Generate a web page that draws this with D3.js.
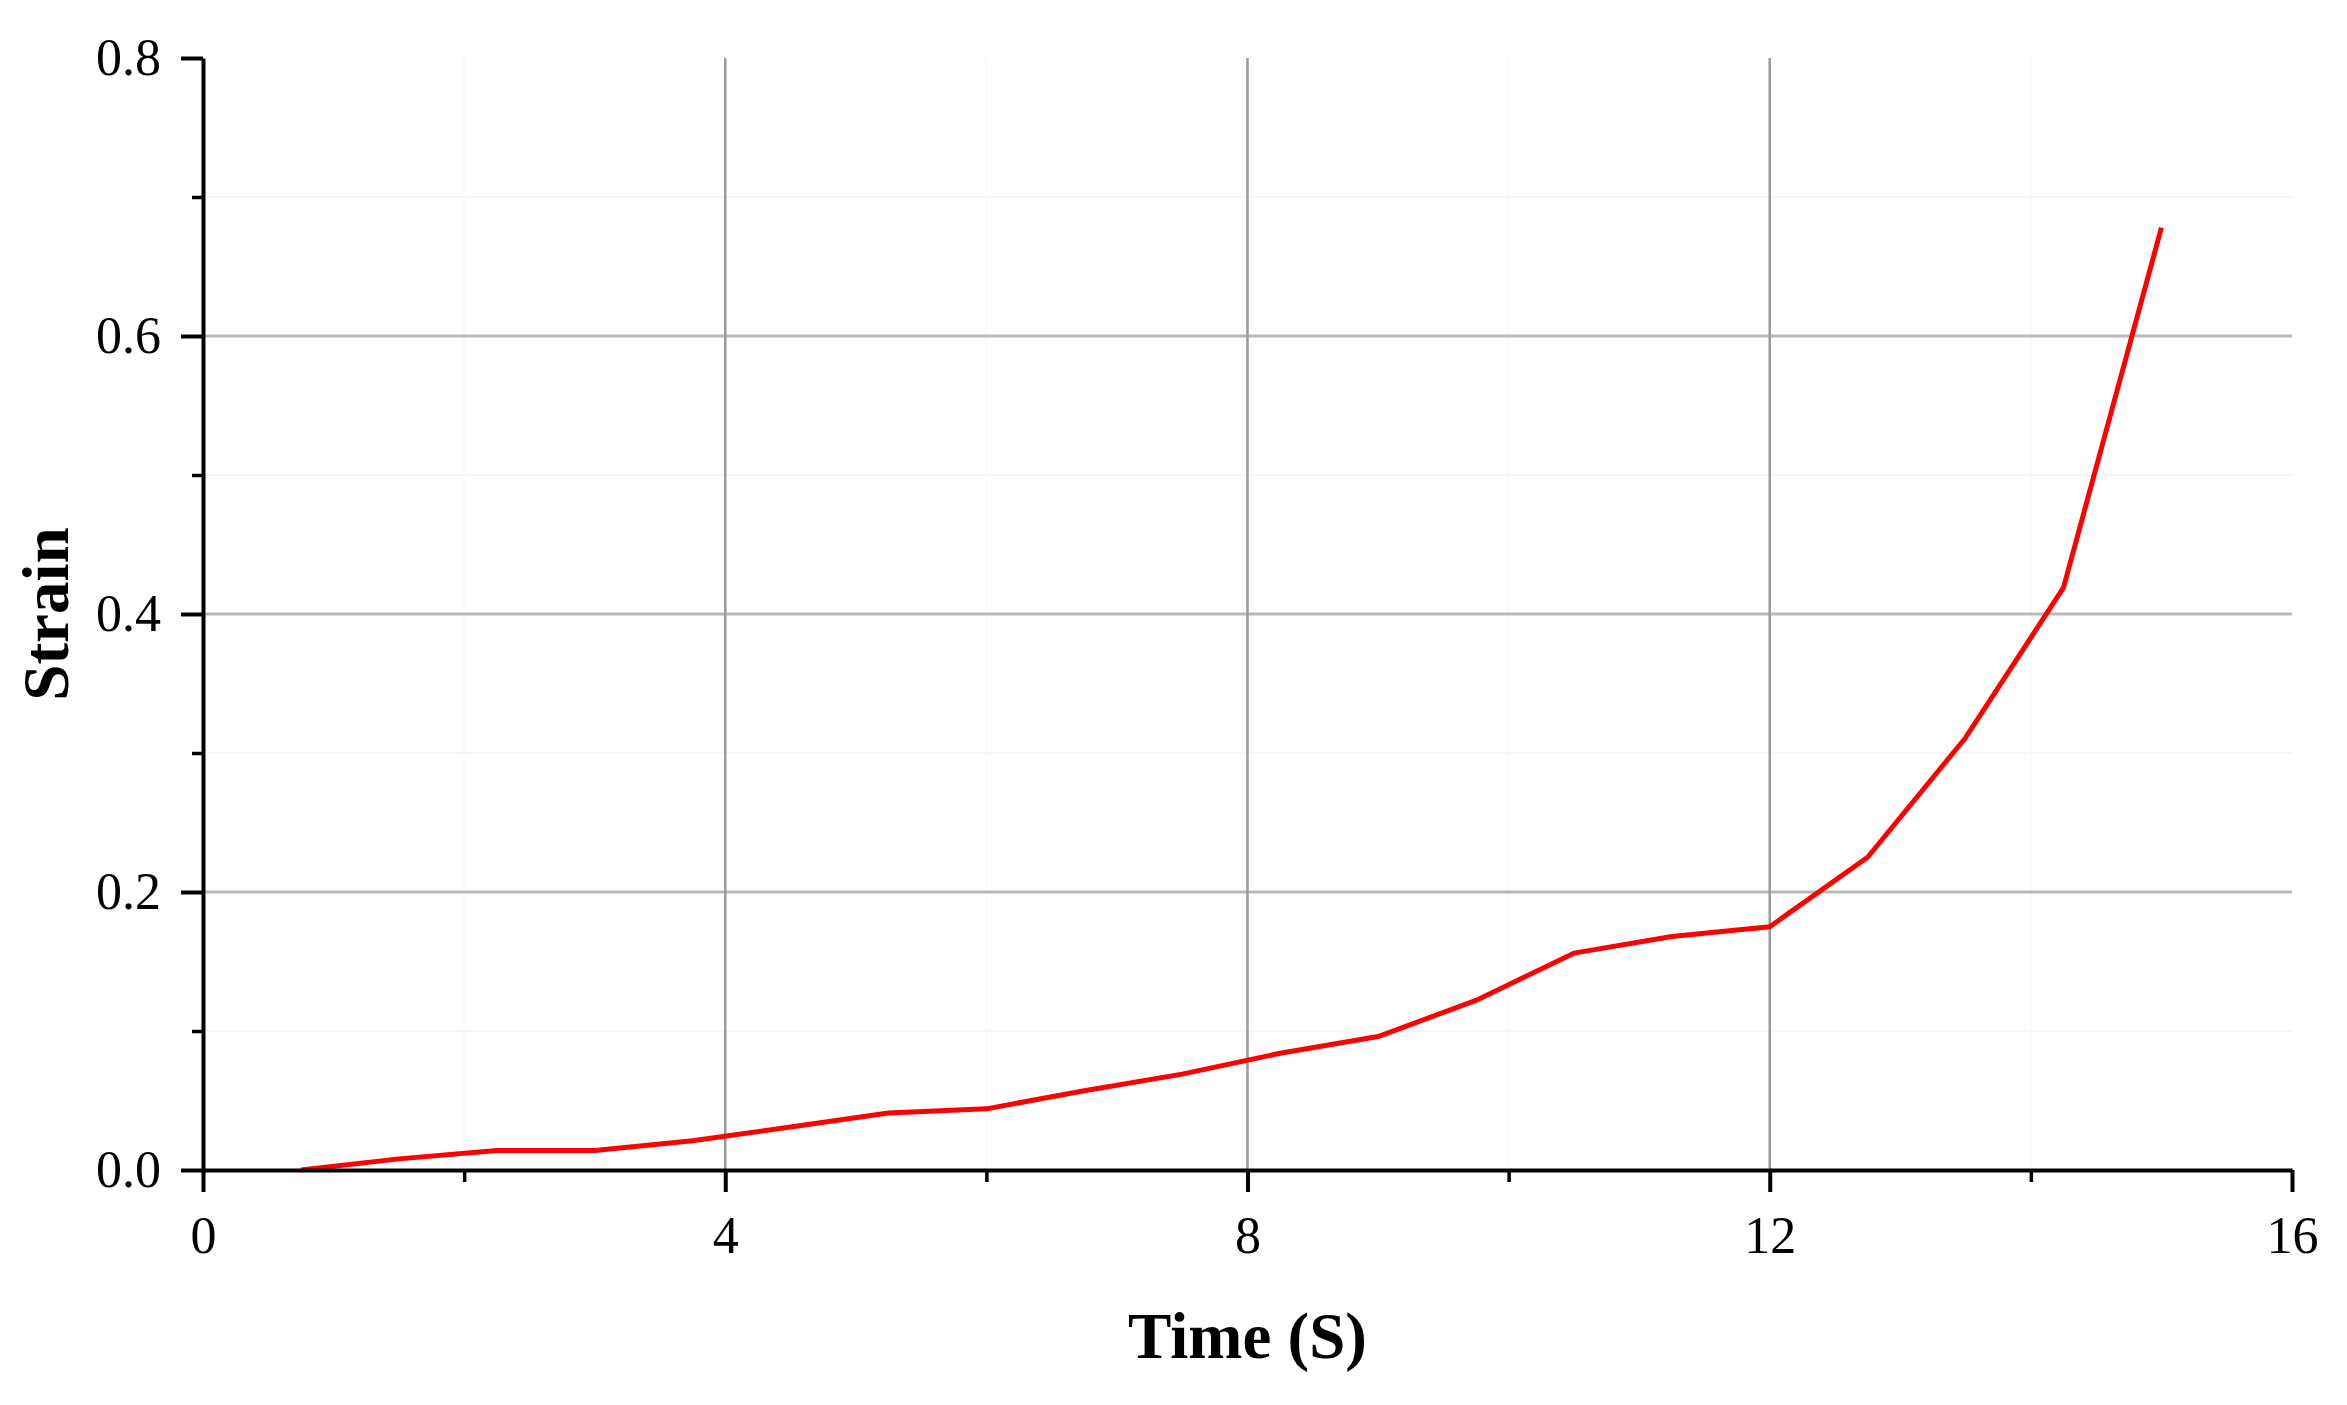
<!DOCTYPE html>
<html>
<head>
<meta charset="utf-8">
<script src="https://cdn.jsdelivr.net/npm/d3@7"></script>
<style>
  body { margin: 0; background: #fff; }
  svg { display: block; }
</style>
</head>
<body>
<svg id="chart" width="2347" height="1405"></svg>
<script>
// data
const timeValues = [0.75, 1.5, 2.25, 3, 3.75, 4.5, 5.25, 6, 6.75, 7.5, 8.25, 9, 9.75, 10.5, 11.25, 12, 12.75, 13.5, 14.25, 15];
const strainValues = [0, 0.008, 0.014, 0.014, 0.021, 0.031, 0.041, 0.044, 0.057, 0.069, 0.084, 0.096, 0.122, 0.156, 0.168, 0.175, 0.225, 0.311, 0.419, 0.678];
const xTicks = [0, 4, 8, 12, 16];
const xMinorTicks = [2, 6, 10, 14];
const yTicks = [0, 0.2, 0.4, 0.6, 0.8];
const yMinorTicks = [0.1, 0.3, 0.5, 0.7];

const margin = {top: 58, right: 55, bottom: 235, left: 203};
const width = 2347 - margin.left - margin.right;
const height = 1405 - margin.top - margin.bottom;
const font = '"Liberation Serif", "Times New Roman", serif';

const svgEl = d3.select("#chart");
const g = svgEl.append("g").attr("transform", `translate(${margin.left},${margin.top})`);

const x = d3.scaleLinear().domain([0, 16]).range([0, width]);
const y = d3.scaleLinear().domain([0, 0.8]).range([height, 0]);

// faint minor grid
g.append("g").selectAll("line").data(yMinorTicks).join("line")
  .attr("x1", 0).attr("x2", width)
  .attr("y1", d => y(d)).attr("y2", d => y(d))
  .attr("stroke", "#f6f6f6").attr("stroke-width", 2);
g.append("g").selectAll("line").data(xMinorTicks).join("line")
  .attr("x1", d => x(d)).attr("x2", d => x(d))
  .attr("y1", 0).attr("y2", height)
  .attr("stroke", "#fafafa").attr("stroke-width", 2);

// major grid
g.append("g").selectAll("line").data(yTicks.filter(d => d > 0 && d < 0.8)).join("line")
  .attr("x1", 0).attr("x2", width)
  .attr("y1", d => y(d)).attr("y2", d => y(d))
  .attr("stroke", "#bdb8b8").attr("stroke-width", 3);
g.append("g").selectAll("line").data(xTicks.filter(d => d > 0 && d < 16)).join("line")
  .attr("x1", d => x(d)).attr("x2", d => x(d))
  .attr("y1", 0).attr("y2", height)
  .attr("stroke", "#9a9a9a").attr("stroke-width", 2.5);

// the curve
const line = d3.line()
  .x((d, i) => x(timeValues[i]))
  .y(d => y(d));
g.append("path")
  .datum(strainValues)
  .attr("fill", "none")
  .attr("stroke", "#ff0000")
  .attr("stroke-width", 5)
  .attr("stroke-linejoin", "round")
  .attr("d", line);

// axes
const xAxis = d3.axisBottom(x).tickValues(xTicks).tickSize(22).tickSizeOuter(0).tickPadding(24).tickFormat(d3.format("d"));
const yAxis = d3.axisLeft(y).tickValues(yTicks).tickSize(22).tickSizeOuter(0).tickPadding(20).tickFormat(d3.format(".1f"));

g.append("g").attr("transform", `translate(0,${height})`)
  .call(d3.axisBottom(x).tickValues(xMinorTicks).tickSize(12).tickSizeOuter(0).tickFormat(""))
  .call(a => a.select(".domain").remove())
  .call(a => a.selectAll("line").attr("stroke", "#000").attr("stroke-width", 3.5));
g.append("g")
  .call(d3.axisLeft(y).tickValues(yMinorTicks).tickSize(11).tickSizeOuter(0).tickFormat(""))
  .call(a => a.select(".domain").remove())
  .call(a => a.selectAll("line").attr("stroke", "#000").attr("stroke-width", 3.5));

const xg = g.append("g").attr("transform", `translate(0,${height})`).call(xAxis);
const yg = g.append("g").call(yAxis);

[xg, yg].forEach(a => {
  a.select(".domain").attr("stroke", "#000").attr("stroke-width", 4);
  a.selectAll(".tick line").attr("stroke", "#000").attr("stroke-width", 4);
  a.selectAll(".tick text")
    .attr("fill", "#000")
    .style("font-family", font)
    .style("font-size", "52px");
});

// axis titles
g.append("text")
  .attr("x", width / 2)
  .attr("y", 1358 - margin.top)
  .attr("text-anchor", "middle")
  .style("font-family", font)
  .style("font-size", "65px")
  .style("font-weight", "bold")
  .text("Time (S)");

g.append("text")
  .attr("transform", "rotate(-90)")
  .attr("x", -(height / 2))
  .attr("y", 68 - margin.left)
  .attr("text-anchor", "middle")
  .style("font-family", font)
  .style("font-size", "65px")
  .style("font-weight", "bold")
  .text("Strain");
</script>
</body>
</html>
